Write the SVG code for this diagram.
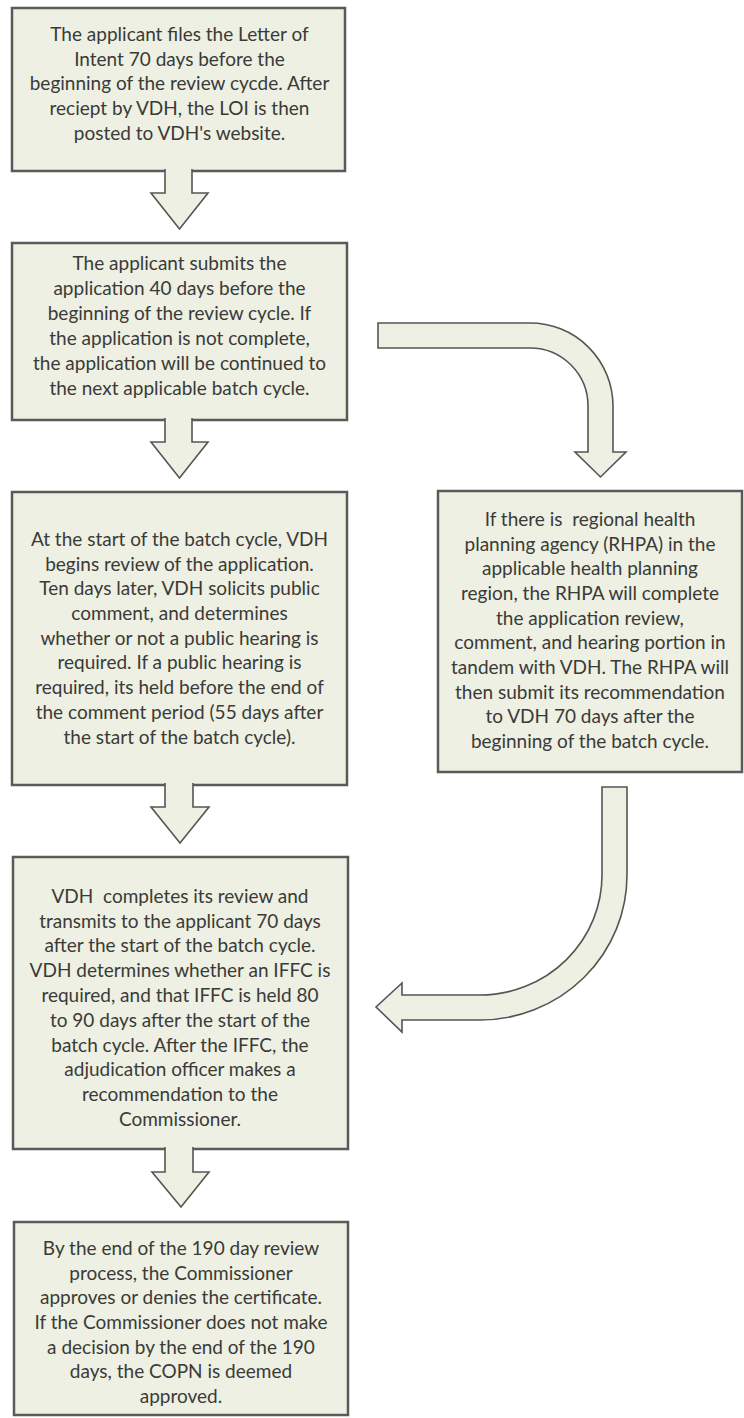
<svg xmlns="http://www.w3.org/2000/svg" width="744" height="1418" viewBox="0 0 744 1418">
<style>
.box{fill:#edf0e2;stroke:#5a5a58;stroke-width:2.5}
.arr{fill:#edf0e2;stroke:#555553;stroke-width:1.6;stroke-linejoin:miter}
text{font-family:Lato,"Open Sans","Liberation Sans",sans-serif;font-size:19px;fill:#3a3a38;text-anchor:middle;white-space:pre}
</style>
<rect width="744" height="1418" fill="#ffffff"/>
<g id="node1">
<rect class="box" x="12" y="8" width="333" height="163"/>
<text x="179.5" y="41">The applicant files the Letter of</text>
<text x="179.5" y="66">Intent 70 days before the</text>
<text x="179.5" y="90">beginning of the review cycde. After</text>
<text x="179.5" y="115">reciept by VDH, the LOI is then</text>
<text x="179.5" y="140">posted to VDH's website.</text>
</g>
<g id="node2">
<rect class="box" x="12" y="243" width="335" height="177"/>
<text x="179.5" y="270">The applicant submits the</text>
<text x="179.5" y="295">application 40 days before the</text>
<text x="179.5" y="320">beginning of the review cycle. If</text>
<text x="179.5" y="345">the application is not complete,</text>
<text x="179.5" y="370">the application will be continued to</text>
<text x="179.5" y="395">the next applicable batch cycle.</text>
</g>
<g id="node3">
<rect class="box" x="12" y="492" width="335" height="293"/>
<text x="179.5" y="546">At the start of the batch cycle, VDH</text>
<text x="179.5" y="571">begins review of the application.</text>
<text x="179.5" y="595">Ten days later, VDH solicits public</text>
<text x="179.5" y="620">comment, and determines</text>
<text x="179.5" y="645">whether or not a public hearing is</text>
<text x="179.5" y="669">required. If a public hearing is</text>
<text x="179.5" y="694">required, its held before the end of</text>
<text x="179.5" y="719">the comment period (55 days after</text>
<text x="179.5" y="744">the start of the batch cycle).</text>
</g>
<g id="node4">
<rect class="box" x="438" y="491" width="304" height="281"/>
<text x="590" y="526">If there is  regional health</text>
<text x="590" y="551">planning agency (RHPA) in the</text>
<text x="590" y="575">applicable health planning</text>
<text x="590" y="600">region, the RHPA will complete</text>
<text x="590" y="625">the application review,</text>
<text x="590" y="649">comment, and hearing portion in</text>
<text x="590" y="674">tandem with VDH. The RHPA will</text>
<text x="590" y="699">then submit its recommendation</text>
<text x="590" y="723">to VDH 70 days after the</text>
<text x="590" y="748">beginning of the batch cycle.</text>
</g>
<g id="node5">
<rect class="box" x="13" y="857" width="335" height="292"/>
<text x="180" y="903">VDH  completes its review and</text>
<text x="180" y="928">transmits to the applicant 70 days</text>
<text x="180" y="952">after the start of the batch cycle.</text>
<text x="180" y="977">VDH determines whether an IFFC is</text>
<text x="180" y="1002">required, and that IFFC is held 80</text>
<text x="180" y="1027">to 90 days after the start of the</text>
<text x="180" y="1052">batch cycle. After the IFFC, the</text>
<text x="180" y="1076">adjudication officer makes a</text>
<text x="180" y="1101">recommendation to the</text>
<text x="180" y="1126">Commissioner.</text>
</g>
<g id="node6">
<rect class="box" x="14" y="1222" width="334" height="193"/>
<text x="181" y="1255">By the end of the 190 day review</text>
<text x="181" y="1280">process, the Commissioner</text>
<text x="181" y="1304">approves or denies the certificate.</text>
<text x="181" y="1329">If the Commissioner does not make</text>
<text x="181" y="1354">a decision by the end of the 190</text>
<text x="181" y="1378">days, the COPN is deemed</text>
<text x="181" y="1403">approved.</text>
</g>
<g id="connectors">
<path class="arr" d="M165,169 L165,193 L151,193 L179.5,229 L208,193 L192,193 L192,169"/>
<path class="arr" d="M165,418 L165,442 L151,442 L179.5,478 L208,442 L192,442 L192,418"/>
<path class="arr" d="M165,783 L165,807 L151,807 L180,843 L209,807 L193,807 L193,783"/>
<path class="arr" d="M165,1147 L165,1172 L152,1172 L181,1207 L209,1172 L193,1172 L193,1147"/>
<path class="arr" d="M378,323 L530,323 A83,83 0 0 1 613,406 L613,452 L626,452 L600.5,477 L575,452 L588,452 L588,406 A58,58 0 0 0 530,348 L378,348 Z"/>
<path class="arr" d="M602,787 L627,787 L627,875 A147,145 0 0 1 480,1020 L402,1020 L402,1032 L376,1007 L402,983 L402,995 L480,995 A122,120 0 0 0 602,875 Z"/>
</g>
</svg>
